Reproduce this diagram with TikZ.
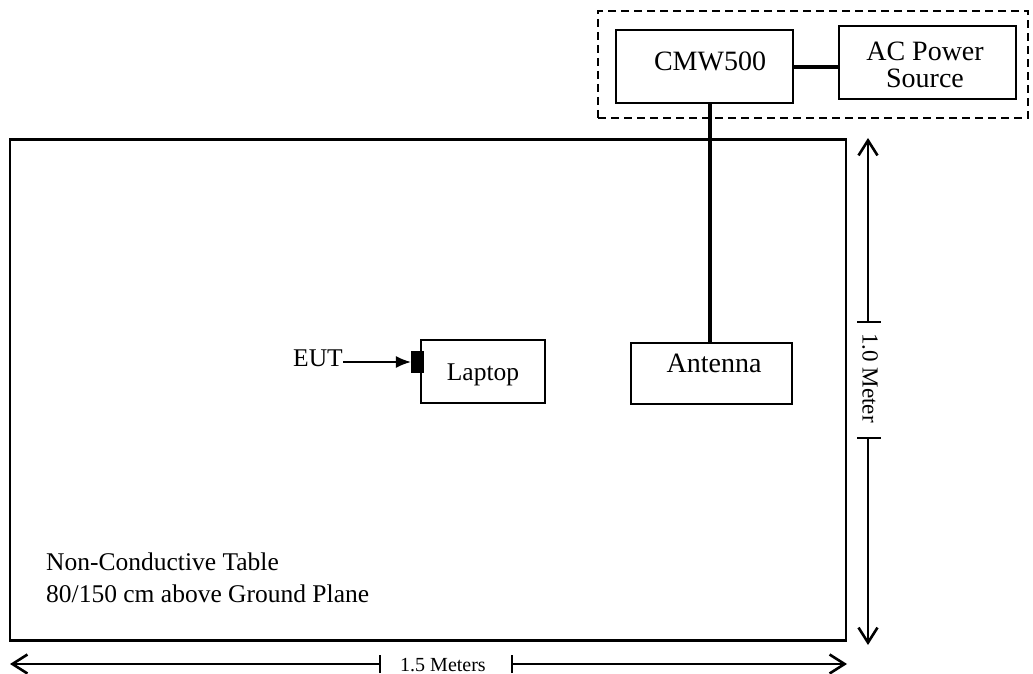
\documentclass[tikz,border=0pt]{standalone}
\usepackage{fontspec}
\setmainfont{Liberation Serif}
\usetikzlibrary{arrows.meta}
\begin{document}
\begin{tikzpicture}[x=1pt,y=-1pt,
  box/.style={draw, line width=1.8pt, inner sep=0pt},
  txt/.style={inner sep=0pt, anchor=base},
  big/.style={font=\fontsize{28}{24}\selectfont},
  mid/.style={font=\fontsize{25.5}{31}\selectfont},
  small/.style={font=\fontsize{20}{24}\selectfont},
  conn/.style={line width=3.5pt},
  dim/.style={line width=1.4pt},
  dimtip/.style={-{Straight Barb[length=15pt,width=19pt,line width=2.6pt]}},
  tick/.style={line width=1.4pt}
]
\useasboundingbox (0,0) rectangle (1033,674);
% table
\node[draw, line width=2.8pt, inner sep=0pt, minimum width=836pt, minimum height=501pt] (table) at (428,390) {};
% dashed group
\node[draw, dash pattern=on 8pt off 5pt, line width=1.4pt, inner sep=0pt, minimum width=430pt, minimum height=107pt] (group) at (813,64.5) {};
% boxes
\node[box, minimum width=177pt, minimum height=73pt] (cmw) at (704.5,66.5) {};
\node[box, minimum width=177pt, minimum height=73pt] (ac) at (927.5,62.5) {};
\node[box, minimum width=161pt, minimum height=61pt] (ant) at (711.5,373.5) {};
\node[box, minimum width=124pt, minimum height=63pt] (lap) at (483,371.5) {};
\node[fill=black, inner sep=0pt, minimum width=13pt, minimum height=22pt] (eut) at (417.5,362) {};
% labels
\node[txt, big] (cmwt) at (710,71) {CMW500};
\node[txt, big] (act) at (925,61) {AC Power};
\node[txt, big] (srct) at (925,88) {Source};
\node[txt, big] (antt) at (714,372) {Antenna};
\node[txt, mid] (lapt) at (483,380) {Laptop};
\node[txt, mid, anchor=base east] (eutt) at (343,366) {EUT};
\node[txt, mid, anchor=base west] (tab1) at (46,570) {Non-Conductive Table};
\node[txt, mid, anchor=base west] (tab2) at (46,602) {80/150 cm above Ground Plane};
% connectors
\draw[conn] (cmw.east |- 0,67) -- (ac.west |- 0,67);
\draw[conn] (cmw.south -| 710,0) -- (ant.north -| 710,0);
\draw[line width=1.3pt, -{Latex[length=15pt,width=12pt]}] (eutt.east |- eut.west) -- (eut.west);
% vertical dimension
\coordinate (vtop) at (868,138);
\coordinate (vbot) at (868,645);
\coordinate (vt1) at (868,322);
\coordinate (vt2) at (868,438);
\draw[dim, dimtip] (vt1) -- (vtop);
\draw[dim, dimtip] (vt2) -- (vbot);
\draw[tick] ([xshift=-11pt]vt1) -- ([xshift=13pt]vt1);
\draw[tick] ([xshift=-11pt]vt2) -- ([xshift=13pt]vt2);
\node[font=\fontsize{23}{26}\selectfont, inner sep=0pt, rotate=-90] (vlab) at (870,378) {1.0 Meter};
% horizontal dimension
\coordinate (hl) at (10,664);
\coordinate (hr) at (847,664);
\coordinate (ht1) at (380,664);
\coordinate (ht2) at (512,664);
\draw[dim, dimtip] (ht1) -- (hl);
\draw[dim, dimtip] (ht2) -- (hr);
\draw[tick] ([yshift=-9pt]ht1) -- ([yshift=9pt]ht1);
\draw[tick] ([yshift=-9pt]ht2) -- ([yshift=9pt]ht2);
\node[small, txt] (hlab) at (443,671) {1.5 Meters};
\end{tikzpicture}
\end{document}
